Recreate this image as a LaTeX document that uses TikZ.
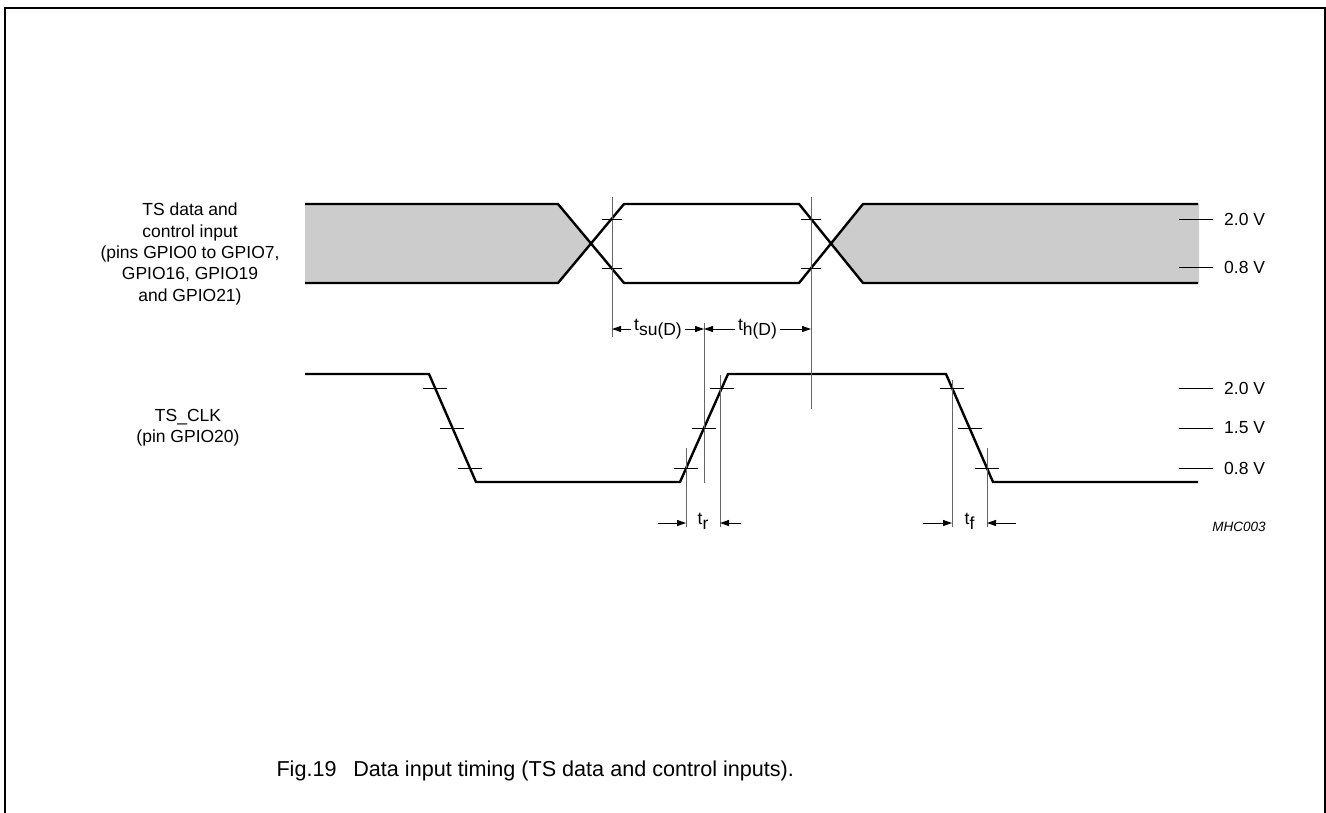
\documentclass[tikz,border=0pt]{standalone}
\usepackage{fontspec}
\setmainfont{Liberation Sans}
\usetikzlibrary{arrows.meta}

\begin{document}
\begin{tikzpicture}[x=1pt, y=-1pt,
    wave/.style={line width=2.4pt, line join=miter},
    guide/.style={line width=0.9pt, black!60},
    tickline/.style={line width=0.7pt},
    dim/.style={line width=0.9pt, -{Triangle[length=9pt,width=6pt]}},
    lbl/.style={font=\fontsize{17.5}{21.3}\selectfont, inner sep=0pt},
    tlbl/.style={font=\fontsize{17.5}{20}\selectfont, inner sep=3pt},
    volt/.style={font=\fontsize{17.5}{20}\selectfont, anchor=west, inner sep=0pt}]
    \useasboundingbox (0,0) rectangle (1326,812);

    % Frame
    \draw[line width=2pt] (5,8) rectangle (1325,818);

    % Data input: grey (don't care) areas
    \fill[black!20] (305,204) -- (558,204) -- (591,243.5) -- (558,283) -- (305,283) -- cycle;
    \fill[black!20] (1199,204) -- (863,204) -- (831,243.5) -- (863,283) -- (1199,283) -- cycle;

    % Data input: crossing lines
    \draw[wave] (305,204) -- (558,204) -- (624,283) -- (799,283) -- (863,204) -- (1198,204);
    \draw[wave] (305,283) -- (558,283) -- (624,204) -- (799,204) -- (863,283) -- (1198,283);

    % Clock waveform
    \draw[wave] (305,374) -- (429,374) -- (476,482) -- (680,482) -- (728,374)
                -- (946,374) -- (993,482) -- (1198,482);

    % Reference lines
    \draw[guide] (612,197) -- (612,337);
    \draw[guide] (811,197) -- (811,409);
    \draw[guide] (704,323) -- (704,483);
    \draw[guide] (686,448) -- (686,527);
    \draw[guide] (720,375) -- (720,527);
    \draw[guide] (952,380) -- (952,527);
    \draw[guide] (987,448) -- (987,527);

    % Level ticks on the edges
    \foreach \x/\y in {612/219, 612/268, 811/219, 811/268}
        \draw[tickline] (\x-10,\y) -- (\x+10,\y);
    \foreach \x/\y in {435/388, 452/428, 470/468, 686/468, 704/428, 722/388,
                       952/388, 970/428, 987/468}
        \draw[tickline] (\x-12,\y) -- (\x+12,\y);

    % Voltage levels
    \foreach \y/\v in {219/2.0, 267/0.8, 388/2.0, 428/1.5, 468/0.8} {
        \draw[tickline] (1179,\y) -- (1213,\y);
        \node[volt] at (1224,\y) {\v\ V};
    }

    % Signal names
    \node[lbl, align=center] (datain) at (190,254)
        {TS data and\\control input\\(pins GPIO0 to GPIO7,\\GPIO16, GPIO19\\and GPIO21)};
    \node[lbl, align=center] (clkin) at (188,428) {TS\_CLK\\(pin GPIO20)};

    % Set-up and hold times
    \coordinate (su1) at (612,329);
    \coordinate (su2) at (704,329);
    \coordinate (ho2) at (811,329);
    \node[tlbl] (tsu) at (658,329) {t\raisebox{-5pt}{su(D)}};
    \node[tlbl] (th) at (757.5,329) {t\raisebox{-5pt}{h(D)}};
    \draw[dim] (tsu.west) -- (su1);
    \draw[dim] (tsu.east) -- (su2);
    \draw[dim] (th.west) -- (su2);
    \draw[dim] (th.east) -- (ho2);

    % Rise and fall times
    \coordinate (r1) at (686,523);
    \coordinate (r2) at (720,523);
    \coordinate (r1o) at (658,523);
    \coordinate (r2o) at (741,523);
    \coordinate (f1) at (952,523);
    \coordinate (f2) at (987,523);
    \coordinate (f1o) at (923,523);
    \coordinate (f2o) at (1016,523);
    \node[tlbl] (tr) at (703,521) {t\raisebox{-5pt}{r}};
    \node[tlbl] (tf) at (969.5,521) {t\raisebox{-5pt}{f}};
    \draw[dim] (r1o) -- (r1);
    \draw[dim] (r2o) -- (r2);
    \draw[dim] (f1o) -- (f1);
    \draw[dim] (f2o) -- (f2);

    % Drawing code and caption
    \node[font=\fontsize{13.5}{15}\selectfont\itshape] (code) at (1239,527) {MHC003};
    \node[font=\fontsize{21.6}{24}\selectfont, anchor=west] (caption) at (273,771)
        {Fig.19\hspace{0.5em} Data input timing (TS data and control inputs).};
\end{tikzpicture}
\end{document}
